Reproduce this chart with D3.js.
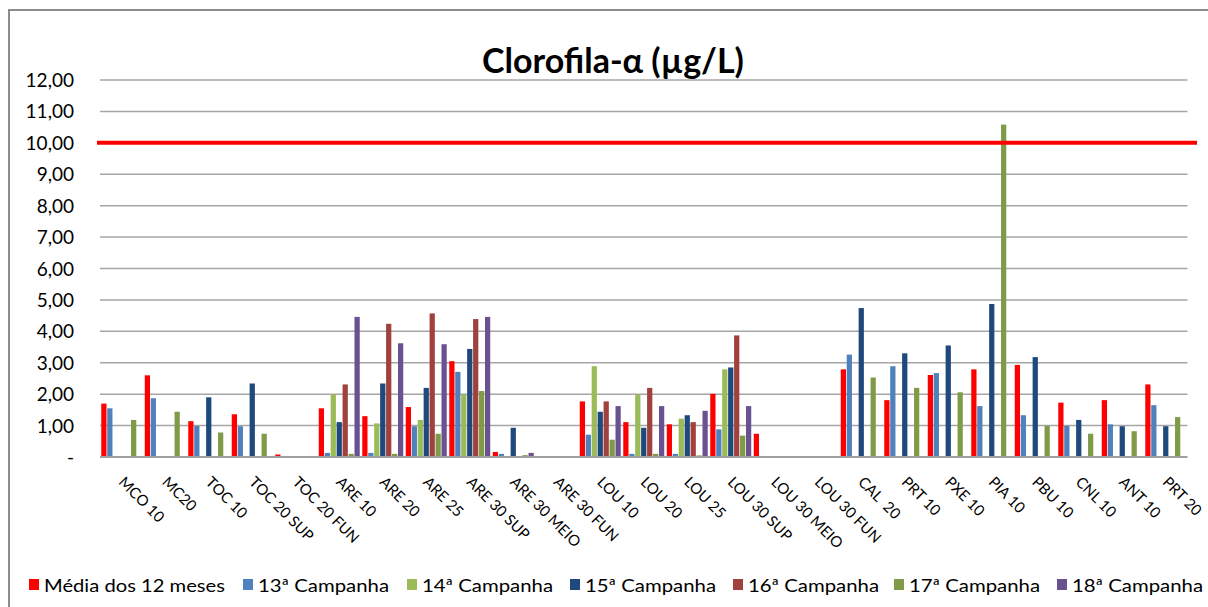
<!DOCTYPE html>
<html>
<head>
<meta charset="utf-8">
<script src="https://cdn.jsdelivr.net/npm/d3@7"></script>
<style>
  body { margin: 0; background: #fff; }
  text { font-family: Lato, "Open Sans", sans-serif; fill: #000; }
</style>
</head>
<body>
<svg id="chart"></svg>
<script>
// chart size
const width = 1208;
const height = 607;

// categories (stations)
const categories = ["MCO 10", "MC20", "TOC 10", "TOC 20 SUP", "TOC 20 FUN", "ARE 10", "ARE 20", "ARE 25",
  "ARE 30 SUP", "ARE 30 MEIO", "ARE 30 FUN", "LOU 10", "LOU 20", "LOU 25", "LOU 30 SUP", "LOU 30 MEIO",
  "LOU 30 FUN", "CAL  20", "PRT 10", "PXE 10", "PIA 10", "PBU 10", "CNL 10", "ANT 10", "PRT 20"];

const seriesNames = ["Média dos 12 meses", "13ª Campanha", "14ª Campanha", "15ª Campanha",
  "16ª Campanha", "17ª Campanha", "18ª Campanha"];

// values (null = no bar)
const media = [1.70, 2.60, 1.14, 1.36, 0.08, 1.55, 1.30, 1.59, 3.05, 0.16, null, 1.77, 1.11, 1.04, 2.01, 0.74, null,
  2.79, 1.81, 2.61, 2.79, 2.93, 1.73, 1.81, 2.31];
const camp13 = [1.55, 1.87, 0.99, 0.98, null, 0.13, 0.13, 0.98, 2.71, 0.10, null, 0.71, 0.10, 0.10, 0.88, null, null,
  3.26, 2.89, 2.67, 1.62, 1.33, 0.99, 1.04, 1.65];
const camp14 = [null, null, null, null, null, 1.99, 1.07, 1.18, 1.99, null, null, 2.89, 1.99, 1.22, 2.79, null, null,
  null, null, null, null, null, null, null, null];
const camp15 = [null, null, 1.90, 2.34, null, 1.11, 2.34, 2.20, 3.44, 0.93, null, 1.44, 0.93, 1.33, 2.85, null, null,
  4.74, 3.30, 3.55, 4.87, 3.18, 1.18, 0.98, 0.98];
const camp16 = [null, null, null, null, null, 2.31, 4.24, 4.57, 4.39, null, null, 1.77, 2.20, 1.11, 3.87, null, null,
  null, null, null, null, null, null, null, null];
const camp17 = [1.18, 1.44, 0.78, 0.74, null, 0.10, 0.10, 0.74, 2.10, 0.06, null, 0.55, 0.10, 0.05, 0.68, null, null,
  2.53, 2.20, 2.06, 10.58, 0.99, 0.74, 0.82, 1.27];
const camp18 = [null, null, null, null, null, 4.46, 3.62, 3.59, 4.46, 0.13, null, 1.62, 1.62, 1.47, 1.62, null, null,
  null, null, null, null, null, null, null, null];

const yTicks = [0, 1, 2, 3, 4, 5, 6, 7, 8, 9, 10, 11, 12];
const limitValue = 10;

const seriesValues = [media, camp13, camp14, camp15, camp16, camp17, camp18];
const colors = ["#ff0000", "#4f81bd", "#9bbb59", "#1f497d", "#a0413e", "#7f9b47", "#6a5290"];

const svg = d3.select("#chart")
    .attr("width", width)
    .attr("height", height);

// outer frame of the chart area
svg.append("path")
    .attr("d", "M9,620 L9,10 L1215,10")
    .attr("fill", "none")
    .attr("stroke", "#8c8c8c")
    .attr("stroke-width", 2);

const plotLeft = 100, plotRight = 1187.5, plotTop = 80, plotBottom = 457;

const x0 = d3.scaleBand()
    .domain(categories)
    .range([plotLeft, plotRight])
    .paddingInner(0.058)
    .paddingOuter(0.029);

const x1 = d3.scaleBand()
    .domain(seriesNames)
    .range([0, x0.bandwidth()])
    .paddingInner(0.12);

const y = d3.scaleLinear()
    .domain([0, 12])
    .range([plotBottom, plotTop]);

// gridlines
svg.append("g")
    .selectAll("line")
    .data(yTicks.filter(d => d > 0))
    .enter()
    .append("line")
    .attr("x1", plotLeft)
    .attr("x2", plotRight)
    .attr("y1", d => y(d))
    .attr("y2", d => y(d))
    .attr("stroke", "#a6a6a6")
    .attr("stroke-width", 1.5);

// y labels
svg.append("g")
    .selectAll("text")
    .data(yTicks)
    .enter()
    .append("text")
    .attr("x", 74)
    .attr("y", d => y(d) + 7)
    .attr("text-anchor", "end")
    .style("font-size", "19px")
    .text(d => d === 0 ? "-" : d3.format(".2f")(d).replace(".", ","));

// bars
const groups = svg.append("g")
    .selectAll("g")
    .data(seriesNames)
    .enter()
    .append("g")
    .attr("fill", (d, i) => colors[i]);

groups.selectAll("rect")
    .data((s, i) => categories.map((c, j) => ({ cat: c, series: s, value: seriesValues[i][j] }))
        .filter(d => d.value != null))
    .enter()
    .append("rect")
    .attr("x", d => x0(d.cat) + x1(d.series))
    .attr("y", d => y(d.value))
    .attr("width", x1.bandwidth())
    .attr("height", d => y(0) - y(d.value));

// x axis line
svg.append("line")
    .attr("x1", plotLeft)
    .attr("x2", plotRight)
    .attr("y1", plotBottom)
    .attr("y2", plotBottom)
    .attr("stroke", "#a0a0a0")
    .attr("stroke-width", 2);

// category labels, rotated
svg.append("g")
    .selectAll("text")
    .data(categories)
    .enter()
    .append("text")
    .attr("transform", d => `translate(${x0(d) + x0.bandwidth() / 2 - 4},483) rotate(45)`)
    .style("font-size", "15px")
    .style("white-space", "pre")
    .text(d => d);

// limit line at 10
svg.append("line")
    .attr("x1", 97)
    .attr("x2", 1197)
    .attr("y1", y(limitValue))
    .attr("y2", y(limitValue))
    .attr("stroke", "#ff0000")
    .attr("stroke-width", 4);

// title
svg.append("text")
    .attr("x", 613)
    .attr("y", 73)
    .attr("text-anchor", "middle")
    .style("font-size", "34px")
    .style("font-weight", "bold")
    .text("Clorofila-α (µg/L)");

// legend
const legendX = [29, 243, 407, 570, 733, 894, 1057];
const legend = svg.append("g")
    .selectAll("g")
    .data(seriesNames)
    .enter()
    .append("g")
    .attr("transform", (d, i) => `translate(${legendX[i]},585)`);

legend.append("rect")
    .attr("x", 0)
    .attr("y", -6)
    .attr("width", 10)
    .attr("height", 11)
    .attr("fill", (d, i) => colors[i]);

legend.append("text")
    .attr("x", 15)
    .attr("y", 7)
    .style("font-size", "18px")
    .attr("textLength", (d, i) => i === 0 ? 181 : 131)
    .attr("lengthAdjust", "spacingAndGlyphs")
    .text(d => d);
</script>
</body>
</html>
